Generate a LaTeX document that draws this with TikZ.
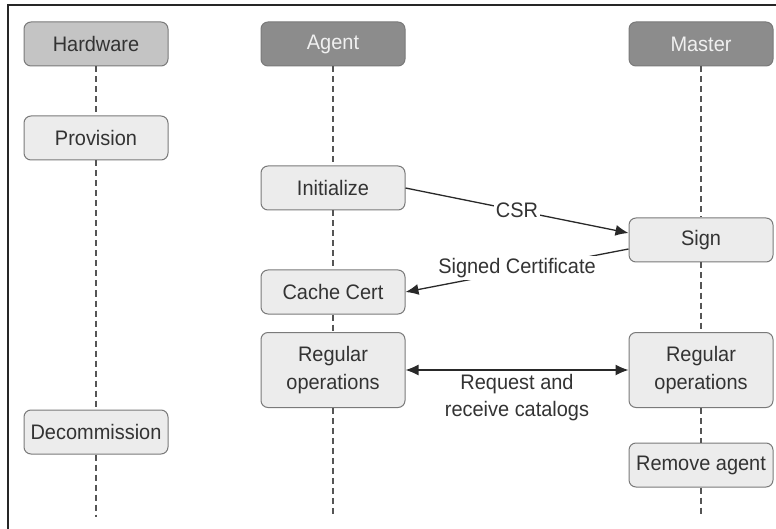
\documentclass[tikz,border=0pt]{standalone}
\usepackage{fontspec}
\setmainfont{Liberation Sans}[FakeStretch=0.95]
\usetikzlibrary{arrows.meta,calc}
\definecolor{txt}{HTML}{333333}
\definecolor{boxline}{HTML}{7A7A7A}
\definecolor{boxfill}{HTML}{ECECEC}
\definecolor{hwfill}{HTML}{C4C4C4}
\definecolor{darkfill}{HTML}{8C8C8C}
\definecolor{lifeline}{HTML}{555555}
\tikzset{
  stepbox/.style={draw=boxline, fill=boxfill, rounded corners=7pt, line width=1pt,
    minimum width=144pt, minimum height=44pt, inner sep=0pt, text=txt,
    font=\fontsize{21}{28}\selectfont, align=center},
  headlight/.style={stepbox, fill=hwfill},
  headdark/.style={stepbox, fill=darkfill, text=white!94!black},
  life/.style={draw=lifeline, line width=1.1pt, dash pattern=on 6pt off 4pt},
  msg/.style={draw=txt!80!black, line width=1.3pt, -{Latex[length=13pt,width=11pt]}},
  msgboth/.style={msg, {Latex[length=13pt,width=11pt]}-{Latex[length=13pt,width=11pt]}},
  lbl/.style={fill=white, text=txt, font=\fontsize{21}{27}\selectfont, inner sep=2pt, align=center},
}
\begin{document}
\begin{tikzpicture}[x=1pt,y=-1pt]
\useasboundingbox (0,0) rectangle (776,529);
\fill[white] (0,0) rectangle (776,529);
% frame (left and top)
\draw[line width=2.5pt, black!85] (8,529) -- (8,5) -- (776,5);
% heads
\node[headlight] (hw) at (96,44) {Hardware};
\node[headdark] (ag) at (333,44) {Agent};
\node[headdark] (ms) at (701,44) {Master};
% steps
\node[stepbox] (prov) at (96,138) {Provision};
\node[stepbox] (init) at (333,188) {Initialize};
\node[stepbox] (sign) at (701,240) {Sign};
\node[stepbox] (cache) at (333,292) {Cache Cert};
\node[stepbox, minimum height=75pt] (rega) at (333,370) {Regular\\operations};
\node[stepbox, minimum height=75pt] (regm) at (701,370) {Regular\\operations};
\node[stepbox] (decom) at (96,432) {Decommission};
\node[stepbox] (remove) at (701,465) {Remove agent};
\coordinate (hwend) at (96,517);
\coordinate (agend) at (333,517);
\coordinate (msend) at (701,517);
% lifelines
\draw[life] (hw.south) -- (prov.north);
\draw[life] (prov.south) -- (decom.north);
\draw[life] (decom.south) -- (hwend);
\draw[life] (ag.south) -- (init.north);
\draw[life] (init.south) -- (cache.north);
\draw[life] (cache.south) -- (rega.north);
\draw[life] (rega.south) -- (agend);
\draw[life] (ms.south) -- (sign.north);
\draw[life] (sign.south) -- (regm.north);
\draw[life] (regm.south) -- (remove.north);
\draw[life] (remove.south) -- (msend);
% messages
\coordinate (csrend) at ($(sign.west)+(0,-7)$);
\coordinate (certstart) at ($(sign.west)+(0,9)$);
\draw[msg] (init.east) -- (csrend);
\node[lbl] (csr) at (517,210) {CSR};
\draw[msg] (certstart) -- (cache.east);
\node[lbl] (cert) at (517,268) {Signed Certificate};
\draw[msgboth] (rega.east) -- (regm.west);
\node[lbl, fill=none] (cat) at (517,398) {Request and\\receive catalogs};
\end{tikzpicture}
\end{document}
